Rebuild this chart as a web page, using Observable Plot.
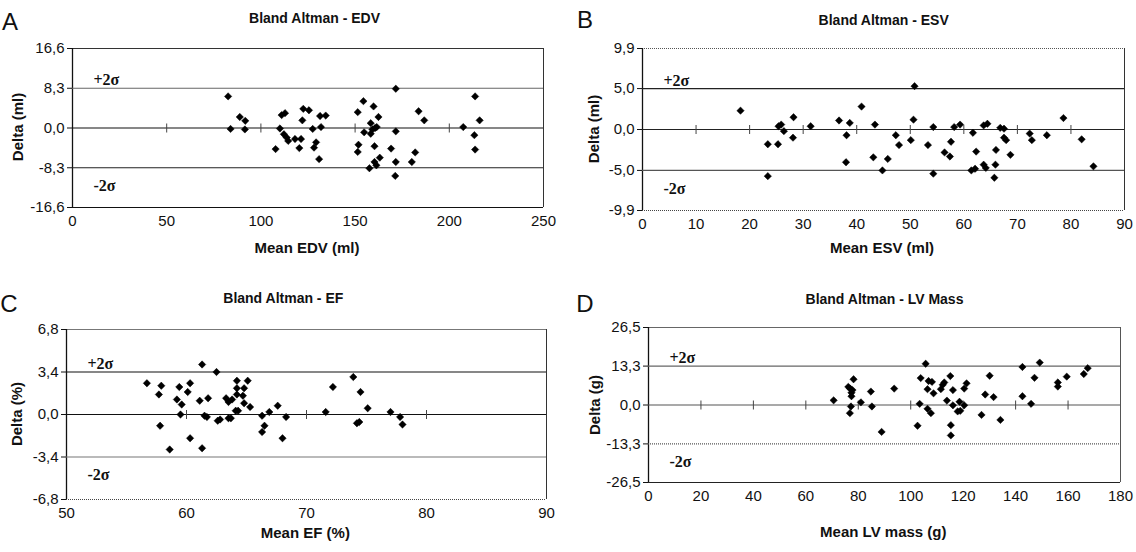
<!DOCTYPE html>
<html><head><meta charset="utf-8">
<script src="https://cdn.jsdelivr.net/npm/d3@7"></script>
<script src="https://cdn.jsdelivr.net/npm/@observablehq/plot@0.6"></script>
<style>
body{margin:0;background:#fff;}
#wrap{position:relative;width:1136px;height:552px;background:#fff;overflow:hidden;}
#wrap svg{position:absolute;max-width:none;}
</style></head><body><div id="wrap"></div>
<script>
// ---- Data ----
const edvMean=[82.6,83.9,88.8,91.7,91.5,107.8,110.1,111.0,112.8,112.2,113.7,114.5,118.1,121.3,120.4,122.0,122.5,125.5,127.5,129.3,128.2,130.9,131.9,131.4,134.4,151.4,151.8,151.4,154.4,154.8,159.8,158.3,159.2,160.3,158.3,160.6,161.5,162.4,157.6,160.3,161.3,163.1,169.1,171.6,171.6,171.6,171.3,180.1,181.9,183.7,186.7,207.4,213.7,216.1,213.3,213.7];
const edvDelta=[6.6,-0.2,2.3,1.5,-0.3,-4.4,-0.1,2.7,3.1,-1.3,-2.0,-2.7,-2.3,-2.3,-4.2,1.6,4.0,3.7,-0.2,-3.0,-4.1,-6.5,0.2,2.5,2.6,3.3,-3.5,-5.0,5.6,-0.9,4.5,1.0,-0.3,-3.8,-1.2,0.0,0.2,2.3,-8.4,-7.1,-7.8,-6.2,-4.3,8.2,-0.7,-7.1,-10.0,-7.1,-5.1,3.5,1.6,0.2,6.6,1.6,-1.5,-4.5];
const esvMean=[18.3,23.4,23.4,25.3,25.4,25.9,26.4,28.1,28.2,31.4,36.7,38.1,38.0,38.7,40.9,43.1,43.4,44.8,45.8,47.3,47.9,50.1,50.6,50.8,53.3,54.3,54.3,56.4,57.4,57.6,58.2,59.3,61.7,62.3,61.4,62.1,63.7,64.4,63.7,64.1,65.7,65.9,66.0,66.8,67.5,67.5,67.9,68.7,72.3,72.7,75.5,78.6,82.0,84.2];
const esvDelta=[2.3,-5.7,-1.8,-1.8,0.4,0.6,-0.2,-1.0,1.5,0.4,1.1,-0.7,-4.0,0.8,2.8,-3.4,0.6,-5.0,-3.6,-0.7,-1.9,-1.3,1.2,5.3,-1.9,0.3,-5.4,-2.8,-3.3,-1.5,0.3,0.6,-0.4,-2.7,-5.0,-4.8,0.5,0.7,-4.3,-4.7,-5.9,-4.3,-2.5,0.2,0.1,-1.0,-1.3,-3.1,-0.5,-1.3,-0.7,1.4,-1.2,-4.5];
const efMean=[56.7,57.7,57.9,57.8,58.6,59.2,59.4,59.6,59.5,60.1,60.3,60.3,61.1,61.3,61.3,61.5,61.7,61.8,62.5,62.6,62.8,63.3,63.5,63.8,63.5,63.7,64.2,64.2,64.2,64.7,64.8,65.1,64.8,64.1,64.3,65.3,66.3,66.3,66.5,66.9,67.6,68.0,68.3,71.6,72.2,73.9,74.2,74.4,74.5,75.1,77.0,77.8,78.0];
const efDelta=[2.5,1.6,2.3,-0.9,-2.8,1.2,2.2,0.8,0.0,1.8,2.5,-1.9,1.1,4.0,-2.7,-0.1,-0.2,1.3,3.4,-0.5,-0.4,1.3,1.0,1.2,-0.3,-0.3,2.7,2.1,1.6,1.5,2.1,2.7,0.9,0.3,0.3,0.6,-1.4,-0.1,-0.9,0.2,0.7,-1.9,-0.2,0.2,2.2,3.0,-0.7,-0.6,1.8,0.5,0.2,-0.2,-0.8];
const lvMean=[70.6,76.2,76.9,77.8,77.4,77.4,78.2,77.2,76.8,81.0,84.8,85.2,88.9,93.7,102.6,103.4,103.8,105.7,106.4,106.8,108.1,106.4,107.7,108.7,111.5,112.2,112.8,113.8,115.1,115.3,115.3,116.1,116.1,117.9,118.9,118.6,120.4,120.4,121.3,127.0,128.4,130.1,131.6,134.2,142.6,142.6,145.9,147.2,149.2,156.1,156.1,159.5,166.0,167.5];
const lvDelta=[1.6,6.2,5.6,5.1,4.2,3.0,8.8,-0.5,-2.8,0.9,4.6,-0.5,-9.2,5.6,-7.1,0.4,9.2,14.1,5.4,8.2,7.9,-1.3,-2.8,4.0,5.4,6.9,7.7,1.5,9.9,-6.9,-10.4,5.1,-0.1,-2.2,-2.0,1.1,-0.1,5.6,7.4,-3.4,3.6,10.0,2.7,-5.1,13.0,3.0,0.4,9.3,14.5,7.7,6.3,9.7,10.6,12.6];

const letters=["A","B","C","D"];
const titles=["Bland Altman - EDV","Bland Altman - ESV","Bland Altman - EF","Bland Altman - LV Mass"];
const xLabels=["Mean EDV (ml)","Mean ESV (ml)","Mean EF (%)","Mean LV mass (g)"];
const yLabels=["Delta (ml)","Delta (ml)","Delta (%)","Delta (g)"];
const xTicksA=[0,50,100,150,200,250];
const xTicksB=[0,10,20,30,40,50,60,70,80,90];
const xTicksC=[50,60,70,80,90];
const xTicksD=[0,20,40,60,80,100,120,140,160,180];
const yTicksA=[-16.6,-8.3,0,8.3,16.6];
const yTicksB=[-9.9,-5.0,0,5.0,9.9];
const yTicksC=[-6.8,-3.4,0,3.4,6.8];
const yTicksD=[-26.5,-13.3,0,13.3,26.5];
const sigmaA=8.3, sigmaB=5.0, sigmaC=3.4, sigmaD=13.3;
const zeroTicksA=[50,100,150,200];
const zeroTicksB=[10,20,30,40,50,60,70,80];
const zeroTicksC=[60,70,80];
const zeroTicksD=[20,40,60,80,100,120,140,160];

// ---- Layout (styles only) ----
const panels=[
 {mean:edvMean,delta:edvDelta,xT:xTicksA,yT:yTicksA,s:sigmaA,zt:zeroTicksA,
  left:0,top:0,h:270,m:[48,25,63,72],letter:[10,30],title:[314.5,23],xl:[307,253],yl:[17,127],
  lines:{top:["#333",null],bottom:["#111",null],right:["#333",null],plus:["#666",null],minus:["#222",null],zero:["#111",null]}},
 {mean:esvMean,delta:esvDelta,xT:xTicksB,yT:yTicksB,s:sigmaB,zt:zeroTicksB,
  left:568,top:0,h:270,m:[48,12,60,74],letter:[17,28],title:[315.7,25],xl:[314,253],yl:[25,129],
  lines:{top:["#555","1,1"],bottom:["#444","1,1"],right:["#333",null],plus:["#222",null],minus:["#555",null],zero:["#222",null]}},
 {mean:efMean,delta:efDelta,xT:xTicksC,yT:yTicksC,s:sigmaC,zt:zeroTicksC,
  left:0,top:276,h:276,m:[53,22,53,66],letter:[9,35.7],title:[283.3,27.3],xl:[305.3,261.5],yl:[16,138],
  lines:{top:["#777",null],bottom:["#444","1,1"],right:["#333",null],plus:["#111",null],minus:["#777",null],zero:["#111",null]}},
 {mean:lvMean,delta:lvDelta,xT:xTicksD,yT:yTicksD,s:sigmaD,zt:zeroTicksD,
  left:568,top:276,h:276,m:[51,16,70,80],letter:[17,35.7],title:[316.5,28],xl:[315.3,261],yl:[26,129],
  lines:{top:["#666",null],bottom:["#222",null],right:["#555",null],plus:["#666",null],minus:["#555","1,1"],zero:["#555",null]}}
];

const fmtY=d=>d3.format(".1f")(d).replace(".",",").replace("\u2212","-");
const vtick={draw(ctx,size){const h=Math.sqrt(size/Math.PI);ctx.moveTo(0,-h);ctx.lineTo(0,h);}};
const wrap=document.getElementById("wrap");

panels.forEach((p,i)=>{
  const data=p.mean.map((x,j)=>({x,y:p.delta[j]}));
  const xd=[p.xT[0],p.xT[p.xT.length-1]], yd=[p.yT[0],p.yT[p.yT.length-1]];
  const L=p.lines;
  const svg=Plot.plot({
    width:568,height:p.h,
    marginTop:p.m[0],marginRight:p.m[1],marginBottom:p.m[2],marginLeft:p.m[3],
    style:{fontFamily:"'Liberation Sans', Arial, sans-serif",fontSize:"15px",background:"transparent",color:"#111"},
    x:{domain:xd},
    y:{domain:yd},
    marks:[
      Plot.ruleY([yd[1]],{stroke:L.top[0],strokeDasharray:L.top[1]}),
      Plot.ruleY([yd[0]],{stroke:L.bottom[0],strokeDasharray:L.bottom[1]}),
      Plot.ruleX([xd[1]],{stroke:L.right[0],strokeDasharray:L.right[1]}),
      Plot.ruleX([xd[0]],{stroke:"#111",strokeWidth:1.3}),
      Plot.ruleY([p.s],{stroke:L.plus[0],strokeDasharray:L.plus[1],strokeWidth:1.2}),
      Plot.ruleY([-p.s],{stroke:L.minus[0],strokeDasharray:L.minus[1],strokeWidth:1.2}),
      Plot.ruleY([0],{stroke:L.zero[0],strokeDasharray:L.zero[1],strokeWidth:1.2}),
      Plot.dot(p.zt,{x:d=>d,y:()=>0,symbol:vtick,r:4.5,stroke:"#444",strokeWidth:1}),
      Plot.axisY({ticks:p.yT,tickFormat:fmtY,tickSize:5,tickPadding:3,fontSize:15,label:null,stroke:"#111"}),
      Plot.axisX({ticks:p.xT,tickFormat:d=>String(d),tickSize:0,tickPadding:8,fontSize:15,label:null}),
      Plot.dot(data,{x:"x",y:"y",symbol:"diamond2",r:3.3,fill:"#000",stroke:"#000",strokeWidth:0.5}),
      Plot.text(["+2\u03c3"],{y:()=>p.s,frameAnchor:"left",dx:21,dy:-3,text:d=>d,textAnchor:"start",lineAnchor:"bottom",fontFamily:"'Liberation Serif', 'Times New Roman', serif",fontWeight:"bold",fontSize:16,fill:"#111"}),
      Plot.text(["-2\u03c3"],{y:()=>-p.s,frameAnchor:"left",dx:21,dy:12,text:d=>d,textAnchor:"start",lineAnchor:"top",fontFamily:"'Liberation Serif', 'Times New Roman', serif",fontWeight:"bold",fontSize:16,fill:"#111"})
    ]
  });
  svg.style.left=p.left+"px";
  svg.style.top=p.top+"px";
  const s=d3.select(svg);
  s.append("text").attr("x",p.letter[0]).attr("y",p.letter[1]).attr("font-size",24).attr("fill","#111").text(letters[i]);
  s.append("text").attr("x",p.title[0]).attr("y",p.title[1]).attr("text-anchor","middle").attr("font-size",14).attr("font-weight","bold").attr("fill","#111").text(titles[i]);
  s.append("text").attr("x",p.xl[0]).attr("y",p.xl[1]).attr("text-anchor","middle").attr("font-size",15).attr("font-weight","bold").attr("fill","#111").text(xLabels[i]);
  s.append("text").attr("transform",`translate(${p.yl[0]},${p.yl[1]}) rotate(-90)`).attr("text-anchor","middle").attr("dominant-baseline","central").attr("font-size",15).attr("font-weight","bold").attr("fill","#111").text(yLabels[i]);
  wrap.appendChild(svg);
});
</script></body></html>
